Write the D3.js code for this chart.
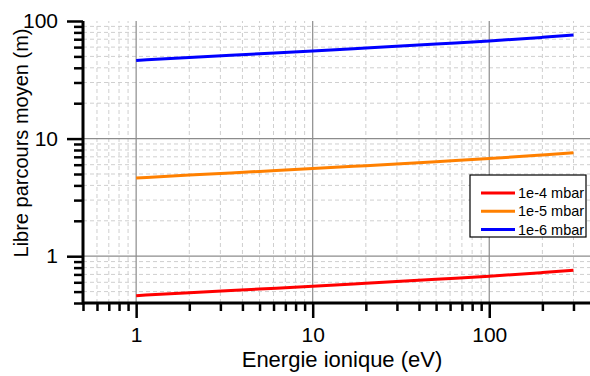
<!DOCTYPE html>
<html>
<head>
<meta charset="utf-8">
<script src="https://cdn.jsdelivr.net/npm/d3@7"></script>
<style>
  body { margin: 0; background: #fff; }
  svg { display: block; font-family: "Liberation Sans", Arial, sans-serif; }
</style>
</head>
<body>
<div id="chart"></div>
<script>
// Energy points (eV) and mean free path (m) per pressure
const energies = [1, 2, 5, 10, 20, 50, 100, 200, 300];
const path1e4 = [0.462, 0.49, 0.526, 0.556, 0.589, 0.637, 0.676, 0.726, 0.759];
const path1e5 = [4.62, 4.9, 5.26, 5.56, 5.89, 6.37, 6.76, 7.26, 7.59];
const path1e6 = [46.2, 49.0, 52.6, 55.6, 58.9, 63.7, 67.6, 72.6, 75.9];
const seriesNames = ['1e-4 mbar', '1e-5 mbar', '1e-6 mbar'];
const seriesColors = ['#ff0000', '#ff8000', '#0000ff'];
const xTickLabels = ['1', '10', '100'];
const yTickLabels = ['1', '10', '100'];

const series = [path1e4, path1e5, path1e6].map((vals, i) => ({
    name: seriesNames[i],
    color: seriesColors[i],
    values: energies.map((e, j) => ({ e: e, v: vals[j] }))
}));

const width = 590, height = 376;
const margin = { top: 21, right: -10, bottom: 73, left: 83 };

const svg = d3.select('#chart').append('svg')
    .attr('width', width)
    .attr('height', height);

const x = d3.scaleLog().domain([0.5, 424]).range([margin.left, width - margin.right]);
const y = d3.scaleLog().domain([0.4, 100]).range([height - margin.bottom, margin.top]);

const isMajor = v => Math.abs(Math.log10(v) - Math.round(Math.log10(v))) < 1e-9;
const xAll = x.ticks();
const yAll = y.ticks();
const xMajor = xAll.filter(isMajor);
const xMinor = xAll.filter(v => !isMajor(v));
const yMajor = yAll.filter(isMajor);
const yMinor = yAll.filter(v => !isMajor(v));

// minor grid (dashed)
const grid = svg.append('g');
grid.selectAll('.vminor').data(xMinor).enter().append('line')
    .attr('x1', d => x(d)).attr('x2', d => x(d))
    .attr('y1', y.range()[0]).attr('y2', y.range()[1])
    .attr('stroke', '#cfcfcf').attr('stroke-width', 1).attr('stroke-dasharray', '4,3');
grid.selectAll('.hminor').data(yMinor.filter(v => v > 0.4)).enter().append('line')
    .attr('y1', d => y(d)).attr('y2', d => y(d))
    .attr('x1', margin.left).attr('x2', width)
    .attr('stroke', '#cfcfcf').attr('stroke-width', 1).attr('stroke-dasharray', '4,3');

// major grid (solid)
grid.selectAll('.vmajor').data(xMajor).enter().append('line')
    .attr('x1', d => x(d)).attr('x2', d => x(d))
    .attr('y1', y.range()[0]).attr('y2', y.range()[1])
    .attr('stroke', '#8c8c8c').attr('stroke-width', 1.2);
grid.selectAll('.hmajor').data(yMajor.filter(v => v < 100)).enter().append('line')
    .attr('y1', d => y(d)).attr('y2', d => y(d))
    .attr('x1', margin.left).attr('x2', width)
    .attr('stroke', '#8c8c8c').attr('stroke-width', 1.2);

// data lines
const line = d3.line().x(d => x(d.e)).y(d => y(d.v)).curve(d3.curveMonotoneX);
svg.append('g').selectAll('path').data(series).enter().append('path')
    .attr('d', d => line(d.values))
    .attr('fill', 'none')
    .attr('stroke', d => d.color)
    .attr('stroke-width', 3);

// axes
const axisY0 = height - margin.bottom;
const styleAxis = g => {
    g.select('.domain').remove();
    g.selectAll('.tick line').attr('stroke', '#000').attr('stroke-width', 2.5);
    g.selectAll('.tick text').attr('fill', '#000').style('font-size', '21px');
};

svg.append('g').attr('transform', `translate(0,${axisY0})`)
    .call(d3.axisBottom(x).tickValues(xMinor).tickSize(8).tickFormat(''))
    .call(styleAxis);
svg.append('g').attr('transform', `translate(0,${axisY0})`)
    .call(d3.axisBottom(x).tickValues(xMajor).tickSize(15).tickPadding(9)
        .tickFormat((d, i) => xTickLabels[i]))
    .call(styleAxis);

svg.append('g').attr('transform', `translate(${margin.left},0)`)
    .call(d3.axisLeft(y).tickValues(yMinor).tickSize(9).tickFormat(''))
    .call(styleAxis);
svg.append('g').attr('transform', `translate(${margin.left},0)`)
    .call(d3.axisLeft(y).tickValues(yMajor).tickSize(16).tickPadding(9)
        .tickFormat((d, i) => yTickLabels[i]))
    .call(styleAxis);

// thick axis lines
svg.append('line')
    .attr('x1', margin.left).attr('x2', width)
    .attr('y1', axisY0).attr('y2', axisY0)
    .attr('stroke', '#000').attr('stroke-width', 3);
svg.append('line')
    .attr('x1', margin.left).attr('x2', margin.left)
    .attr('y1', axisY0 + 1.5).attr('y2', margin.top)
    .attr('stroke', '#000').attr('stroke-width', 3);

// axis titles
svg.append('text')
    .attr('x', 342).attr('y', 367)
    .attr('text-anchor', 'middle')
    .style('font-size', '22px')
    .text('Energie ionique (eV)');
svg.append('text')
    .attr('transform', 'translate(28,143) rotate(-90)')
    .attr('text-anchor', 'middle')
    .style('font-size', '20px')
    .text('Libre parcours moyen (m)');

// legend
const legend = svg.append('g').attr('transform', 'translate(470,175)');
legend.append('rect')
    .attr('width', 116).attr('height', 62)
    .attr('fill', '#fff').attr('stroke', '#000').attr('stroke-width', 1.2);
const rows = legend.selectAll('.row').data(series).enter().append('g')
    .attr('transform', (d, i) => `translate(0,${18 + i * 18.3})`);
rows.append('line')
    .attr('x1', 11).attr('x2', 45)
    .attr('stroke', d => d.color).attr('stroke-width', 3);
rows.append('text')
    .attr('x', 48).attr('dy', '0.35em')
    .style('font-size', '14.5px')
    .text(d => d.name);
</script>
</body>
</html>
